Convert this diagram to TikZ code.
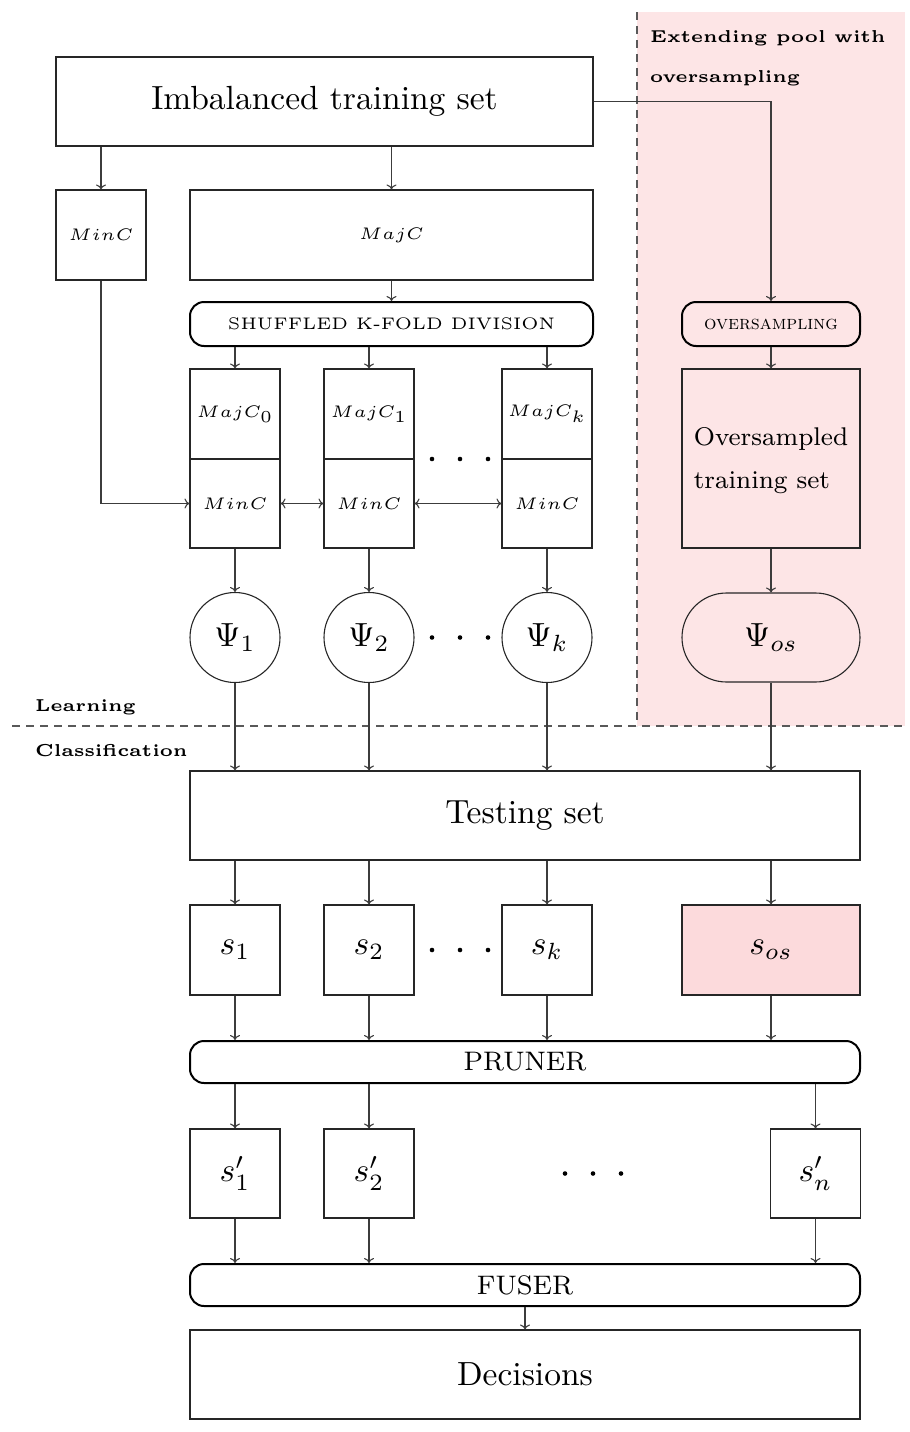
\documentclass[tikz,border=0pt]{standalone}
\usepackage{graphicx}
\usetikzlibrary{arrows.meta}
\definecolor{poolpink}{RGB}{253,229,230}
\definecolor{sospink}{RGB}{252,218,220}
\definecolor{lin}{RGB}{60,60,60}
\newcommand\sx[1]{\scalebox{3.35}{#1}}
\newcommand\sxl[1]{\scalebox{3.45}{#1}}
\begin{document}
\begin{tikzpicture}[x=1pt,y=-1pt,
  >={To[length=5pt,width=10pt]},
  box/.style={draw=black!85, line width=1.1pt, inner sep=0pt, rectangle},
  rbox/.style={draw=black, line width=2pt, inner sep=0pt, rectangle, rounded corners=14pt},
  psi/.style={draw=black!85, line width=1.1pt, inner sep=0pt, circle, minimum size=90pt},
  conn/.style={draw=lin, line width=1.1pt},
  arr/.style={conn, ->},
  darr/.style={conn, <->},
  sep/.style={draw=black!65, line width=1.2pt, dash pattern=on 8pt off 6pt},
  lbl/.style={inner sep=0pt, anchor=base west},
  dotc/.style={fill=black}]
\useasboundingbox (0,0) rectangle (910,1432);
% pink region
\fill[poolpink] (637,12) rectangle (905,726);
\draw[sep] (637,12) -- (637,726);
\draw[sep] (12,726) -- (905,726);
\node[lbl] (ext1) at (650,42) {\sxl{\tiny\bfseries Extending pool with}};
\node[lbl] (ext2) at (650,82) {\sxl{\tiny\bfseries oversampling}};
\node[lbl] (learn) at (35,711) {\sxl{\tiny\bfseries Learning}};
\node[lbl] (class) at (35,756) {\sxl{\tiny\bfseries Classification}};

% top
\node[box, minimum width=537pt, minimum height=89pt] (its) at (324.5,101.5) {\sx{\normalsize Imbalanced training set}};
\node[box, minimum width=90pt, minimum height=90pt] (minc0) at (101,235) {\sx{\tiny $MinC$}};
\node[box, minimum width=403pt, minimum height=90pt] (majc) at (391.5,235) {\sx{\tiny $MajC$}};
\node[rbox, minimum width=403pt, minimum height=44pt] (shuf) at (391.5,324) {\sx{\tiny SHUFFLED K-FOLD DIVISION}};
\node[rbox, fill=poolpink, minimum width=178pt, minimum height=44pt] (ovs) at (771,324) {\sx{\fontsize{5.85}{7}\selectfont\scshape oversampling}};

% folds
\node[box, minimum width=90pt, minimum height=90pt] (majc1) at (235,414) {\sx{\tiny $MajC_0$}};
\node[box, minimum width=90pt, minimum height=90pt] (majc2) at (369,414) {\sx{\tiny $MajC_1$}};
\node[box, minimum width=90pt, minimum height=90pt] (majc3) at (547,414) {\sx{\tiny $MajC_k$}};
\node[box, minimum width=90pt, minimum height=89pt] (minc1) at (235,503.5) {\sx{\tiny $MinC$}};
\node[box, minimum width=90pt, minimum height=89pt] (minc2) at (369,503.5) {\sx{\tiny $MinC$}};
\node[box, minimum width=90pt, minimum height=89pt] (minc3) at (547,503.5) {\sx{\tiny $MinC$}};
\node[box, fill=poolpink, minimum width=178pt, minimum height=179pt] (ovset) at (771,458.5)
  {\scalebox{3.2}{\footnotesize\renewcommand\arraystretch{1.43}\begin{tabular}{@{}l@{}}Oversampled\\training set\end{tabular}}};

% classifiers
\node[psi] (psi1) at (235,637.5) {\sx{\normalsize $\Psi_1$}};
\node[psi] (psi2) at (369,637.5) {\sx{\normalsize $\Psi_2$}};
\node[psi] (psi3) at (547,637.5) {\sx{\normalsize $\Psi_k$}};
\node[box, fill=poolpink, rounded corners=44.5pt, minimum width=178pt, minimum height=89pt] (psios) at (771,637.5) {\sx{\normalsize $\Psi_{os}$}};

% classification
\node[box, minimum width=670pt, minimum height=89pt] (test) at (525,815.5) {\sx{\normalsize Testing set}};
\node[box, minimum width=90pt, minimum height=90pt] (s1) at (235,950) {\sx{\normalsize $s_1$}};
\node[box, minimum width=90pt, minimum height=90pt] (s2) at (369,950) {\sx{\normalsize $s_2$}};
\node[box, minimum width=90pt, minimum height=90pt] (s3) at (547,950) {\sx{\normalsize $s_k$}};
\node[box, fill=sospink, minimum width=178pt, minimum height=90pt] (sos) at (771,950) {\sx{\normalsize $s_{os}$}};
\node[rbox, minimum width=670pt, minimum height=42pt] (prun) at (525,1062) {\sx{\footnotesize PRUNER}};
\node[box, minimum width=90pt, minimum height=89pt] (sp1) at (235,1173.5) {\sx{\normalsize $s'_1$}};
\node[box, minimum width=90pt, minimum height=89pt] (sp2) at (369,1173.5) {\sx{\normalsize $s'_2$}};
\node[box, minimum width=90pt, minimum height=89pt] (spn) at (815.5,1173.5) {\sx{\normalsize $s'_n$}};
\node[rbox, minimum width=670pt, minimum height=42pt] (fus) at (525,1285) {\sx{\footnotesize FUSER}};
\node[box, minimum width=670pt, minimum height=89pt] (dec) at (525,1374.5) {\sx{\normalsize Decisions}};

% dots
\foreach \y/\x in {459/460, 637.5/460, 950/460, 1173.5/593}
  \foreach \dx in {-28,0,28}
    \fill[dotc] (\x+\dx,\y) circle (2.3pt);

% connectors
\draw[arr] (minc0.north |- its.south) -- (minc0.north);
\draw[arr] (majc.north |- its.south) -- (majc.north);
\draw[arr] (its.east) -| (ovs.north);
\draw[arr] (majc.south) -- (shuf.north);
\foreach \n in {majc1,majc2,majc3}
  \draw[arr] (\n.north |- shuf.south) -- (\n.north);
\draw[arr] (ovs.south) -- (ovset.north);
\draw[arr] (minc0.south) |- (minc1.west);
\draw[darr] (minc1.east) -- (minc2.west);
\draw[darr] (minc2.east) -- (minc3.west);
\draw[arr] (minc1.south) -- (psi1.north);
\draw[arr] (minc2.south) -- (psi2.north);
\draw[arr] (minc3.south) -- (psi3.north);
\draw[arr] (ovset.south) -- (psios.north);
\foreach \n in {psi1,psi2,psi3,psios}
  \draw[arr] (\n.south) -- (\n.south |- test.north);
\foreach \n in {s1,s2,s3,sos}
  \draw[arr] (\n.north |- test.south) -- (\n.north);
\foreach \n in {s1,s2,s3,sos}
  \draw[arr] (\n.south) -- (\n.south |- prun.north);
\foreach \n in {sp1,sp2,spn}
  \draw[arr] (\n.north |- prun.south) -- (\n.north);
\foreach \n in {sp1,sp2,spn}
  \draw[arr] (\n.south) -- (\n.south |- fus.north);
\draw[arr] (fus.south) -- (dec.north);
\end{tikzpicture}
\end{document}
